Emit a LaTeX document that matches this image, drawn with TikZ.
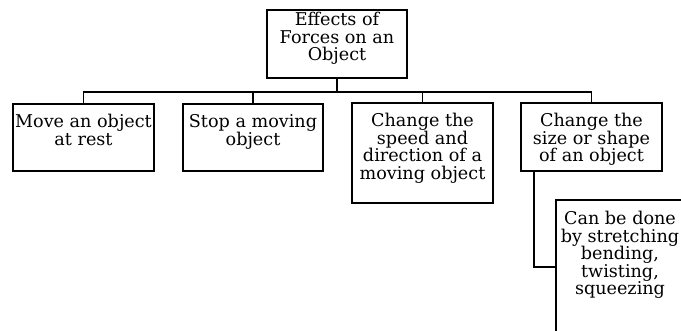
\documentclass[tikz,border=0pt]{standalone}
\usepackage{fontspec}
\setmainfont{DejaVu Serif}
\begin{document}
\begin{tikzpicture}[x=1pt,y=-1pt,
  box/.style={draw, line width=1.3pt, rectangle, inner sep=0pt},
  txt/.style={anchor=base, inner sep=0pt, font=\fontsize{17.6}{17.4}\selectfont},
  conn/.style={line width=1.3pt}]
\useasboundingbox (0,0) rectangle (681,331);
\clip (0,0) rectangle (681,331);
% boxes
\node[box, minimum width=140pt, minimum height=68pt] (top) at (337,44) {};
\node[box, minimum width=141pt, minimum height=67pt] (b1) at (83.5,137.5) {};
\node[box, minimum width=140pt, minimum height=67pt] (b2) at (253,137.5) {};
\node[box, minimum width=141pt, minimum height=100pt] (b3) at (422.5,153) {};
\node[box, minimum width=141pt, minimum height=68pt] (b4) at (591.5,137) {};
\node[box, minimum width=141pt, minimum height=150pt] (b5) at (626.5,275) {};
% texts
\node[txt] (t0) at (337,26) {\parbox[t]{140pt}{\centering Effects of\\Forces on an\\Object}};
\node[txt] (t1) at (83.5,128) {\parbox[t]{141pt}{\centering Move an object\\at rest}};
\node[txt] (t2) at (253,128) {\parbox[t]{140pt}{\centering Stop a moving\\object}};
\node[txt] (t3) at (422.5,127) {\parbox[t]{141pt}{\centering Change the\\speed and\\direction of a\\moving object}};
\node[txt] (t4) at (591.5,127) {\parbox[t]{141pt}{\centering Change the\\size or shape\\of an object}};
\node[txt] (t5) at (620,225) {\parbox[t]{141pt}{\centering Can be done\\by stretching\\bending,\\twisting,\\squeezing}};
% connectors
\coordinate (bus) at (337,92);
\draw[conn] (top.south) -- (bus);
\draw[conn] (b1.north) |- (bus) -| (b4.north);
\draw[conn] (b2.north) -- (b2.north |- bus);
\draw[conn] (b3.north) -- (b3.north |- bus);
\coordinate (k) at (534,267);
\draw[conn] (b4.south -| k) -- (k) -- (k -| b5.west);
\end{tikzpicture}
\end{document}
